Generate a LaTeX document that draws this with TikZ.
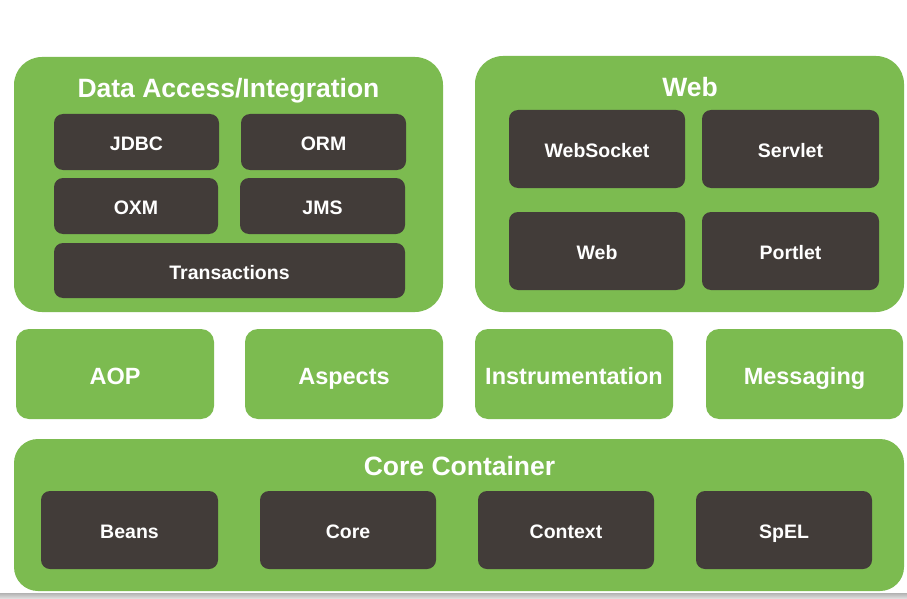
\documentclass[tikz,border=0pt]{standalone}
\usepackage{fontspec}
\setmainfont{Liberation Sans}
\definecolor{springgreen}{RGB}{124,187,80}
\definecolor{darkbox}{RGB}{66,60,57}
\begin{document}
\begin{tikzpicture}[x=1pt,y=-1pt,
  bigbox/.style={fill=springgreen, rounded corners=28pt},
  midbox/.style={fill=springgreen, rounded corners=13pt, text=white, font=\fontsize{23.5}{26}\selectfont\bfseries, inner sep=0pt, text height=16.8pt, text depth=0pt},
  inbox/.style={fill=darkbox, rounded corners=9pt, text=white, font=\fontsize{19.5}{22}\selectfont\bfseries, inner sep=0pt, text height=14pt, text depth=0pt},
  title/.style={text=white, font=\fontsize{26.5}{28}\selectfont\bfseries, inner sep=0pt, text height=19pt, text depth=0pt}
]
\useasboundingbox (0,0) rectangle (907,599);
\fill[white] (0,0) rectangle (907,599);
% bottom shadow band
\shade[top color=gray!60, bottom color=gray!20] (0,593) rectangle (907,599);

% Data Access / Integration
\node[bigbox, minimum width=429pt, minimum height=255pt] (da) at (228.5,184.5) {};
\node[title] (datitle) at (228.5,88) {Data Access/Integration};
\node[inbox, minimum width=165pt, minimum height=56pt] (jdbc) at (136.5,142) {\raisebox{-1.5pt}{JDBC}};
\node[inbox, minimum width=165pt, minimum height=56pt] (orm) at (323.5,142) {\raisebox{-1.5pt}{ORM}};
\node[inbox, minimum width=164pt, minimum height=56pt] (oxm) at (136,206) {\raisebox{-1.5pt}{OXM}};
\node[inbox, minimum width=165pt, minimum height=56pt] (jms) at (322.5,206) {\raisebox{-1.5pt}{JMS}};
\node[inbox, minimum width=351pt, minimum height=55pt] (tx) at (229.5,270.5) {\raisebox{-1.5pt}{Transactions}};

% Web
\node[bigbox, minimum width=429pt, minimum height=256pt] (web) at (689.5,184) {};
\node[title] (webtitle) at (690,87) {Web};
\node[inbox, minimum width=176pt, minimum height=78pt] (ws) at (597,149) {\raisebox{-1.5pt}{WebSocket}};
\node[inbox, minimum width=177pt, minimum height=78pt] (servlet) at (790.5,149) {\raisebox{-1.5pt}{Servlet}};
\node[inbox, minimum width=176pt, minimum height=78pt] (webm) at (597,251) {\raisebox{-1.5pt}{Web}};
\node[inbox, minimum width=177pt, minimum height=78pt] (portlet) at (790.5,251) {\raisebox{-1.5pt}{Portlet}};

% middle row
\node[midbox, minimum width=198pt, minimum height=90pt] (aop) at (115,374) {\raisebox{-2pt}{AOP}};
\node[midbox, minimum width=198pt, minimum height=90pt] (aspects) at (344,374) {\raisebox{-2pt}{Aspects}};
\node[midbox, minimum width=198pt, minimum height=90pt] (instr) at (574,374) {\raisebox{-2pt}{Instrumentation}};
\node[midbox, minimum width=197pt, minimum height=90pt] (msg) at (804.5,374) {\raisebox{-2pt}{Messaging}};

% Core Container
\node[bigbox, rounded corners=24pt, minimum width=890pt, minimum height=152pt] (core) at (459,515) {};
\node[title] (coretitle) at (459.5,466) {Core Container};
\node[inbox, minimum width=177pt, minimum height=78pt] (beans) at (129.5,530) {\raisebox{-1.5pt}{Beans}};
\node[inbox, minimum width=176pt, minimum height=78pt] (corem) at (348,530) {\raisebox{-1.5pt}{Core}};
\node[inbox, minimum width=176pt, minimum height=78pt] (ctx) at (566,530) {\raisebox{-1.5pt}{Context}};
\node[inbox, minimum width=176pt, minimum height=78pt] (spel) at (784,530) {\raisebox{-1.5pt}{SpEL}};
\end{tikzpicture}
\end{document}
